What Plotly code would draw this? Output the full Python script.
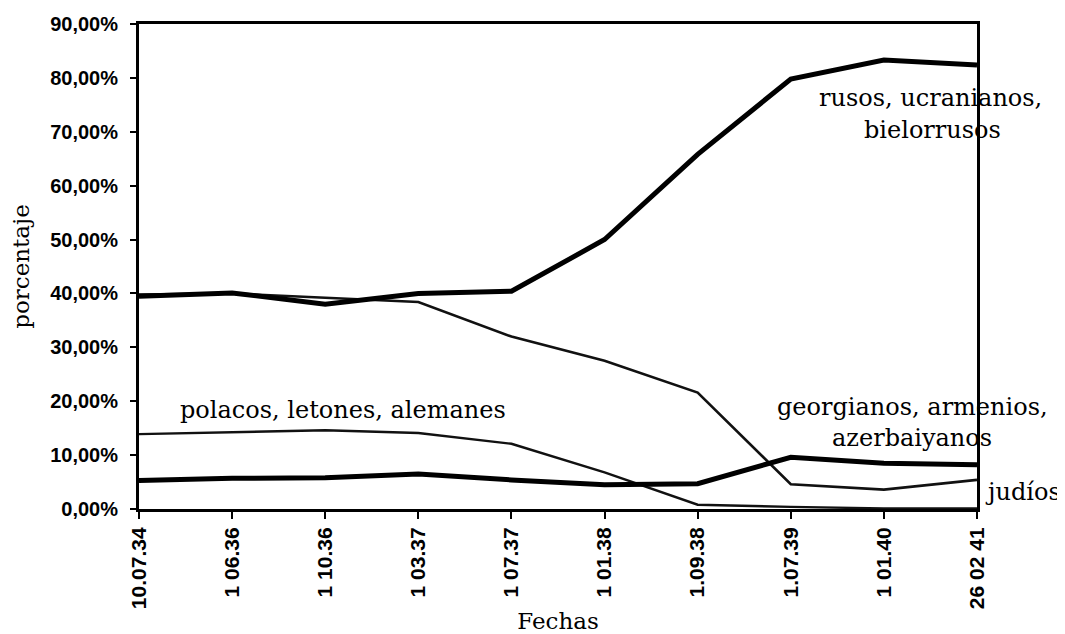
import plotly.graph_objects as go

fechas = ["10.07.34", "1 06.36", "1 10.36", "1 03.37", "1 07.37",
          "1 01.38", "1.09.38", "1.07.39", "1 01.40", "26 02 41"]

rusos = [39.5, 40.1, 38.0, 40.0, 40.4, 50.0, 65.8, 79.8, 83.3, 82.4]
judios = [39.8, 40.0, 39.2, 38.4, 32.0, 27.5, 21.6, 4.6, 3.6, 5.4]
polacos = [13.9, 14.3, 14.6, 14.1, 12.1, 6.8, 0.8, 0.4, 0.1, 0.1]
georgianos = [5.3, 5.7, 5.8, 6.5, 5.4, 4.5, 4.7, 9.6, 8.5, 8.2]

pct = lambda v: [x / 100 for x in v]

fig = go.Figure()
fig.add_trace(go.Scatter(x=fechas, y=pct(polacos), mode="lines",
                         line=dict(color="#111111", width=2.4), showlegend=False))
fig.add_trace(go.Scatter(x=fechas, y=pct(judios), mode="lines",
                         line=dict(color="#111111", width=2.6), showlegend=False))
fig.add_trace(go.Scatter(x=fechas, y=pct(georgianos), mode="lines",
                         line=dict(color="#000000", width=5), showlegend=False))
fig.add_trace(go.Scatter(x=fechas, y=pct(rusos), mode="lines",
                         line=dict(color="#000000", width=5), showlegend=False))

serif = dict(family="DejaVu Serif", size=24, color="black")

# target plot-area edges in screen pixels (page has an 8px body margin)
OFF = 8
L, R, T, B = 139, 977, 24, 509
W, H = 1065, 634

def px(x):
    return (x - L) / (R - L)

def py(y):
    return (B - y) / (B - T)

labels = [
    ("rusos, ucranianos,", 930, 98),
    ("bielorrusos", 932, 130),
    ("georgianos, armenios,", 912, 407),
    ("azerbaiyanos", 912, 438),
    ("judíos", 1023, 492),
    ("polacos, letones, alemanes", 343, 410),
]
for txt, xx, yy in labels:
    fig.add_annotation(text=txt, x=px(xx), y=py(yy), xref="paper", yref="paper",
                       showarrow=False, font=serif, xanchor="center", yanchor="middle")

ytickfont = dict(family="Liberation Sans", size=20, color="black", weight="bold")
xtickfont = dict(family="Liberation Sans", size=21, color="black", weight="bold")

fig.update_layout(
    width=W, height=H,
    margin=dict(l=L - OFF, r=W - R + OFF, t=T - OFF, b=H - B + OFF, autoexpand=False),
    paper_bgcolor="white", plot_bgcolor="white",
    separators=",.",
    xaxis=dict(type="category", range=[0, 9], showgrid=False, zeroline=False,
               showline=True, linecolor="black", linewidth=3, mirror=True,
               ticks="outside", ticklen=7, tickwidth=2, tickcolor="black",
               tickangle=-90, tickfont=xtickfont,
               title=dict(text="Fechas", font=dict(family="DejaVu Serif", size=23, color="black"),
                          standoff=5)),
    yaxis=dict(range=[0, 0.9], tickvals=[i / 10 for i in range(10)], tickformat=".2%",
               showgrid=False, zeroline=False,
               showline=True, linecolor="black", linewidth=3, mirror=True,
               ticks="outside", ticklen=6, tickwidth=2, tickcolor="black",
               tickfont=ytickfont, ticklabelstandoff=8,
               title=dict(text="porcentaje", font=dict(family="DejaVu Serif", size=23, color="black"),
                          standoff=16)),
)

fig.write_html("out.html")
